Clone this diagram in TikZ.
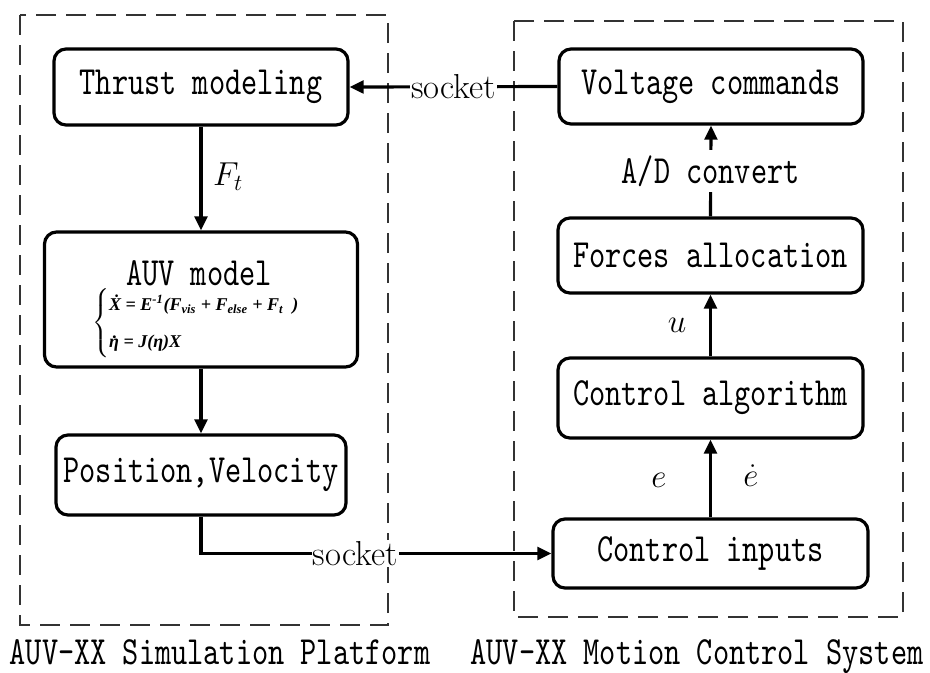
\documentclass[tikz,border=0pt]{standalone}
\usepackage{amsmath}
\usepackage{fontspec}
\newfontfamily\labfont{lmmono10-regular.otf}[FakeStretch=0.77]
\newfontfamily\eqfont{Liberation Serif}
\usetikzlibrary{arrows.meta}
\newlength\pxu
\setlength\pxu{0.75pt}
\newcommand\doteta{\rlap{\kern0.2em\raisebox{0.5em}{.}}η}
\begin{document}
\begin{tikzpicture}[x=0.75pt,y=-0.75pt,
  box/.style={draw, line width=2.4pt, rounded corners=9pt, inner sep=0pt,
    font=\labfont\fontsize{30}{30}\selectfont},
  arr/.style={line width=2.4pt, -{Triangle[length=10.5pt,width=9.5pt]}},
  grp/.style={draw=black!80, line width=1.5pt, dash pattern=on 15pt off 7.5pt},
  sock/.style={fill=white, inner sep=1pt, font=\fontsize{26}{26}\selectfont},
  lbl/.style={fill=white, inner sep=4pt, font=\labfont\fontsize{30}{30}\selectfont},
  captxt/.style={anchor=base, inner sep=0pt, font=\labfont\fontsize{30}{30}\selectfont},
  mth/.style={inner sep=0pt, font=\fontsize{32}{32}\selectfont}
]
\useasboundingbox (0,0) rectangle (930,672);
% group frames
\draw[grp] (20,15) rectangle (388,625);
\draw[grp] (514,21) rectangle (903,617);
% left boxes
\node[box, minimum width=294\pxu, minimum height=76\pxu] (thrust) at (201,87) {Thrust modeling};
\node[box, minimum width=313\pxu, minimum height=135\pxu] (auv) at (201,299.5) {};
\node[inner sep=0pt, font=\labfont\fontsize{30}{30}\selectfont] (auvtitle) at (199,273) {AUV model};
\node[inner sep=0pt, font=\eqfont\bfseries\itshape\fontsize{13.5}{22}\selectfont] (auveq) at (196,323)
  {$\left\{\begin{tabular}{@{}l@{}}\.X = E\textsuperscript{-1}(F\textsubscript{vis} + F\textsubscript{else} + F\textsubscript{t}\ \ )\\[6pt] \doteta\ = J(η)X\end{tabular}\right.$};
\node[box, minimum width=290\pxu, minimum height=80\pxu] (pos) at (201,475) {Position,Velocity};
% right boxes
\node[box, minimum width=304\pxu, minimum height=75\pxu] (volt) at (711,86.5) {Voltage commands};
\node[box, minimum width=305\pxu, minimum height=75\pxu] (forces) at (710.5,255.5) {Forces allocation};
\node[box, minimum width=305\pxu, minimum height=80\pxu] (calg) at (710.5,398) {Control algorithm};
\node[box, minimum width=315\pxu, minimum height=69\pxu] (cin) at (710.5,553.5) {Control inputs};
% connectors
\draw[arr] (volt.west) -- node[sock] (s1) {socket} (thrust.east);
\draw[arr] (thrust.south) -- (auv.north);
\node[mth, font=\fontsize{25}{25}\selectfont] (ft) at (228,177) {$F_t$};
\draw[arr] (auv.south) -- (pos.north);
\draw[arr] (pos.south) |- node[sock, pos=0.72] (s2) {socket} (cin.west);
\draw[arr] (cin.north) -- (calg.south);
\node[mth] (e1) at (659,480) {$e$};
\node[mth] (e2) at (751,476) {$\dot{e}$};
\draw[arr] (calg.north) -- (forces.south);
\node[mth] (u1) at (677,325) {$u$};
\draw[arr] (forces.north) -- node[lbl] (ad) {A/D convert} (volt.south);
% captions
\node[captxt] (c1) at (220,664) {AUV-XX Simulation Platform};
\node[captxt] (c2) at (697,664) {AUV-XX Motion Control System};
\end{tikzpicture}
\end{document}
